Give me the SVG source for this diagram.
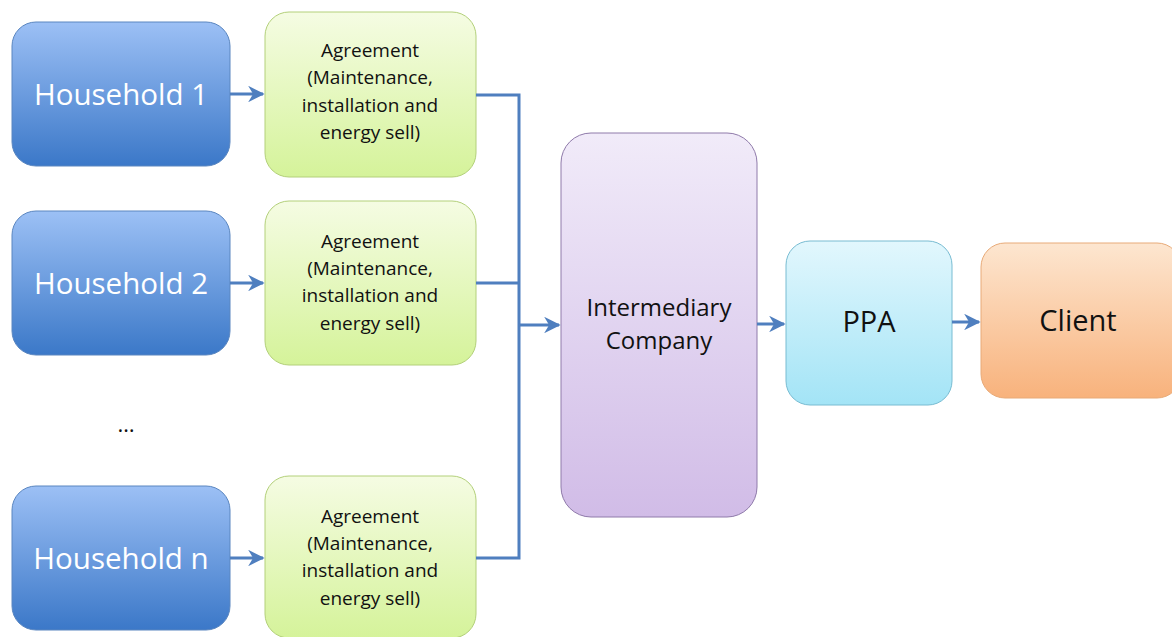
<svg xmlns="http://www.w3.org/2000/svg" width="1172" height="637" viewBox="0 0 1172 637">
  <defs>
    <linearGradient id="gBlue" x1="0" y1="0" x2="0" y2="1">
      <stop offset="0" stop-color="#9cc0f5"/>
      <stop offset="1" stop-color="#3b78c8"/>
    </linearGradient>
    <linearGradient id="gGreen" x1="0" y1="0" x2="0" y2="1">
      <stop offset="0" stop-color="#f5fce3"/>
      <stop offset="1" stop-color="#d5f39a"/>
    </linearGradient>
    <linearGradient id="gPurple" x1="0" y1="0" x2="0" y2="1">
      <stop offset="0" stop-color="#f1ebf9"/>
      <stop offset="1" stop-color="#d1bce7"/>
    </linearGradient>
    <linearGradient id="gCyan" x1="0" y1="0" x2="0" y2="1">
      <stop offset="0" stop-color="#e2f7fd"/>
      <stop offset="1" stop-color="#a3e4f6"/>
    </linearGradient>
    <linearGradient id="gOrange" x1="0" y1="0" x2="0" y2="1">
      <stop offset="0" stop-color="#fde6d0"/>
      <stop offset="1" stop-color="#f8b27c"/>
    </linearGradient>
    <marker id="arrow" viewBox="0 0 10 10" refX="9" refY="5" markerWidth="5.5" markerHeight="5.5" orient="auto" markerUnits="strokeWidth">
      <path d="M0,0 L10,5 L0,10 L3,5 Z" fill="#4f7fbf"/>
    </marker>
  </defs>
  <style>
    .house { fill: url(#gBlue); stroke: #5a86c0; stroke-width: 1; }
    .agree { fill: url(#gGreen); stroke: #b3d07a; stroke-width: 1; }
    .inter { fill: url(#gPurple); stroke: #8f7aaa; stroke-width: 1; }
    .ppa { fill: url(#gCyan); stroke: #78bcd2; stroke-width: 1; }
    .client { fill: url(#gOrange); stroke: #e8aa78; stroke-width: 1; }
    .big { font-family: "Open Sans", "Liberation Sans", sans-serif; text-anchor: middle; }
    .hl { font-size: 29.5px; fill: #ffffff; }
    .al { font-size: 19px; fill: #111111; }
    .il { font-size: 24px; fill: #111111; }
    .pl { font-size: 29px; fill: #111111; }
    .conn { fill: none; stroke: #4f7fbf; stroke-width: 3; }
  </style>

  <!-- households -->
  <g id="household-1">
    <rect class="house" x="12" y="22" width="218" height="144" rx="24"/>
    <text class="big hl" x="121" y="105">Household 1</text>
  </g>
  <g id="household-2">
    <rect class="house" x="12" y="211" width="218" height="144" rx="24"/>
    <text class="big hl" x="121" y="294">Household 2</text>
  </g>
  <text class="big" x="126" y="432" font-size="22" fill="#111111">…</text>
  <g id="household-n">
    <rect class="house" x="12" y="486" width="218" height="144" rx="24"/>
    <text class="big hl" x="121" y="569">Household n</text>
  </g>

  <!-- agreements -->
  <g id="agreement-1">
    <rect class="agree" x="265" y="12" width="211" height="165" rx="24"/>
    <text class="big al" x="370" y="57">Agreement</text>
    <text class="big al" x="370" y="84">(Maintenance,</text>
    <text class="big al" x="370" y="112">installation and</text>
    <text class="big al" x="370" y="139">energy sell)</text>
  </g>
  <g id="agreement-2">
    <rect class="agree" x="265" y="201" width="211" height="164" rx="24"/>
    <text class="big al" x="370" y="248">Agreement</text>
    <text class="big al" x="370" y="275">(Maintenance,</text>
    <text class="big al" x="370" y="302">installation and</text>
    <text class="big al" x="370" y="330">energy sell)</text>
  </g>
  <g id="agreement-n">
    <rect class="agree" x="265" y="476" width="211" height="162" rx="24"/>
    <text class="big al" x="370" y="523">Agreement</text>
    <text class="big al" x="370" y="550">(Maintenance,</text>
    <text class="big al" x="370" y="577">installation and</text>
    <text class="big al" x="370" y="605">energy sell)</text>
  </g>

  <!-- right-hand chain -->
  <g id="intermediary">
    <rect class="inter" x="561" y="133" width="196" height="384" rx="30"/>
    <text class="big il" x="659" y="316">Intermediary</text>
    <text class="big il" x="659" y="349">Company</text>
  </g>
  <g id="ppa">
    <rect class="ppa" x="786" y="241" width="166" height="164" rx="24"/>
    <text class="big pl" x="869" y="332">PPA</text>
  </g>
  <g id="client">
    <rect class="client" x="981" y="243" width="200" height="155" rx="24"/>
    <text class="big pl" x="1078" y="331">Client</text>
  </g>

  <!-- connectors -->
  <g id="connectors">
    <line class="conn" x1="230" y1="94" x2="263" y2="94" marker-end="url(#arrow)"/>
    <line class="conn" x1="230" y1="283" x2="263" y2="283" marker-end="url(#arrow)"/>
    <line class="conn" x1="230" y1="558" x2="263" y2="558" marker-end="url(#arrow)"/>
    <polyline class="conn" points="476,95 519,95 519,558 476,558"/>
    <line class="conn" x1="476" y1="283" x2="519" y2="283"/>
    <line class="conn" x1="519" y1="325" x2="559" y2="325" marker-end="url(#arrow)"/>
    <line class="conn" x1="757" y1="324" x2="784" y2="324" marker-end="url(#arrow)"/>
    <line class="conn" x1="952" y1="322" x2="979" y2="322" marker-end="url(#arrow)"/>
  </g>
</svg>
